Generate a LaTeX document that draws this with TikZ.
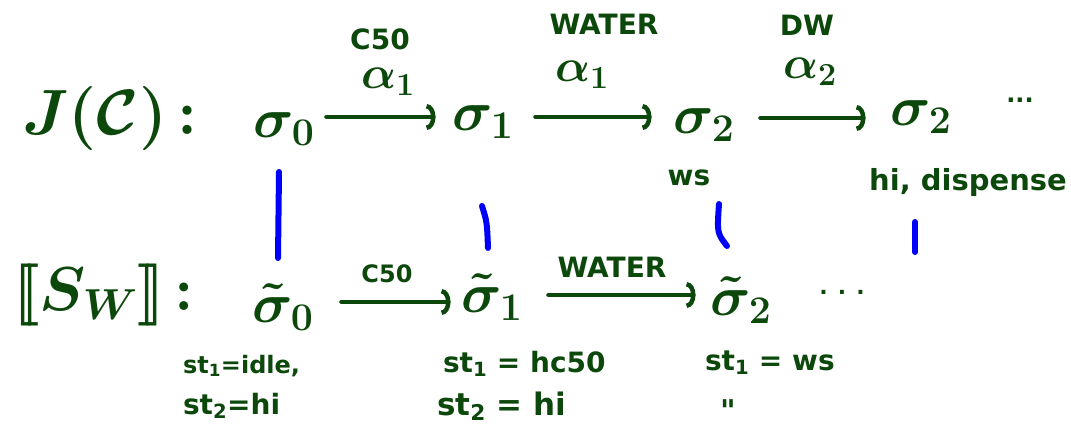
\RequirePackage{fix-cm}
\documentclass[tikz,border=0pt]{standalone}
\usepackage{fontspec}
\setmainfont{DejaVu Sans}
\newfontfamily\rawsans[Ligatures=TeXOff]{DejaVu Sans}
\usetikzlibrary{arrows.meta}
\definecolor{ink}{RGB}{12,72,12}
\definecolor{pen}{RGB}{0,0,250}
\begin{document}
\begin{tikzpicture}[x=1pt,y=-1pt,
  every node/.style={text=ink, inner sep=0pt, outer sep=0pt},
  sigmanode/.style={anchor=base, font=\fontsize{56}{60}\selectfont\boldmath},
  act/.style={font=\fontsize{46}{50}\selectfont\boldmath},
  lbl/.style={font=\fontsize{28}{30}\selectfont\bfseries},
  note/.style={anchor=base west, font=\fontsize{24}{26}\selectfont\bfseries},
  bignote/.style={anchor=base west, font=\fontsize{29}{32}\selectfont\bfseries},
  flow/.style={draw=ink, line width=4.5pt, line cap=round, -{Arc Barb[width=26pt,length=9pt,line width=4.5pt]}},
  corr/.style={draw=pen, line width=6pt, line cap=round}]
\useasboundingbox (0,0) rectangle (1071,428);

% left labels
\node[anchor=base west, font=\fontsize{64}{64}\selectfont\boldmath] (J) at (22,134) {$J(\mathcal{C})$\hspace{10pt}$:$};
\node[anchor=base west, font=\fontsize{62}{62}\selectfont\boldmath] (K) at (13,310) {$[\![S_W]\!]$\hspace{10pt}$:$};

% top row states
\node[sigmanode] (s0) at (284,137) {$\sigma_0$};
\node[sigmanode] (s1) at (483,130) {$\sigma_1$};
\node[sigmanode] (s2) at (704,133) {$\sigma_2$};
\node[sigmanode] (s3) at (921,125) {$\sigma_2$};
\node[font=\fontsize{24}{24}\selectfont\bfseries] (d1) at (1020,100) {...};

% bottom row states
\node[sigmanode] (t0) at (283,322) {$\tilde{\sigma}_0$};
\node[sigmanode] (t1) at (492,312) {$\tilde{\sigma}_1$};
\node[sigmanode] (t2) at (741,315) {$\tilde{\sigma}_2$};
\node[font=\fontsize{22}{22}\selectfont\bfseries] (d2) at (842,292) {. . .};

% top arrows
\draw[flow, shorten <=12pt, shorten >=17pt] ([yshift=20pt]s0.base east) -- ([yshift=13pt]s1.base west);
\draw[flow, shorten <=22pt, shorten >=22pt] ([yshift=13pt]s1.base east) -- ([yshift=16pt]s2.base west);
\draw[flow, shorten <=26pt, shorten >=25pt] ([yshift=15pt]s2.base east) -- ([yshift=7pt]s3.base west);

% bottom arrows
\draw[flow, shorten <=28pt, shorten >=11pt] ([yshift=20pt]t0.base east) -- ([yshift=10pt]t1.base west);
\draw[flow, shorten <=26pt, shorten >=15pt] ([yshift=17pt]t1.base east) -- ([yshift=20pt]t2.base west);

% arrow labels
\node[act] (a1) at (388,82) {$\alpha_1$};
\node[act] (a1b) at (582,75) {$\alpha_1$};
\node[act] (a2) at (810,72) {$\alpha_2$};
\node[lbl] (l1) at (380,39) {C50};
\node[lbl] (l2) at (604,24) {WATER};
\node[lbl] (l3) at (807,25) {DW};
\node[lbl, font=\fontsize{24}{26}\selectfont\bfseries] (l4) at (387,274) {C50};
\node[lbl] (l5) at (612,267) {WATER};

% state annotations (top)
\node[anchor=base, font=\fontsize{28}{30}\selectfont\bfseries] (ws) at (689,185) {ws};
\node[anchor=base, font=\fontsize{29}{31}\selectfont\bfseries] (hd) at (968,190) {hi, dispense};

% state annotations (bottom)
\node[note] (n01) at (183,373) {st\textsubscript{1}=idle,};
\node[note, font=\fontsize{28}{30}\selectfont\bfseries] (n02) at (183,414) {st\textsubscript{2}=hi};
\node[bignote, font=\fontsize{28}{30}\selectfont\bfseries] (n11) at (443,372) {st\textsubscript{1} = hc50};
\node[bignote, font=\fontsize{31}{33}\selectfont\bfseries] (n12) at (437,415) {st\textsubscript{2} = hi};
\node[bignote, font=\fontsize{28}{30}\selectfont\bfseries] (n21) at (705,370) {st\textsubscript{1} = ws};
\node[anchor=base, font=\fontsize{30}{30}\selectfont\rawsans\bfseries] (n22) at (728,421) {"};

% correspondence strokes
\coordinate (b1t) at (279,172); \coordinate (b1b) at (278,258);
\coordinate (b2t) at (482,206); \coordinate (b2b) at (488,248);
\coordinate (b3t) at (719,204); \coordinate (b3b) at (727,246);
\coordinate (b4t) at (915,222); \coordinate (b4b) at (915,252);
\draw[corr] (b1t) -- (b1b);
\draw[corr] (b2t) .. controls (487,222) .. (b2b);
\draw[corr] (b3t) .. controls (717,233) .. (b3b);
\draw[corr] (b4t) -- (b4b);
\end{tikzpicture}
\end{document}
